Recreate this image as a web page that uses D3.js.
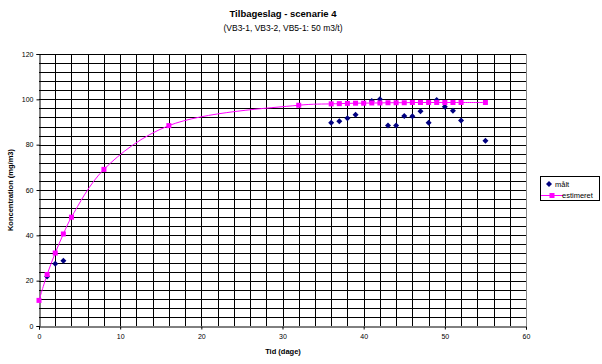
<!DOCTYPE html>
<html><head><meta charset="utf-8">
<script src="https://cdn.jsdelivr.net/npm/d3@7"></script>
<style>body{margin:0;background:#fff}svg{display:block}text{font-family:"Liberation Sans",Arial,sans-serif}</style>
</head><body><svg id="c" width="602" height="364"></svg>
<script>
const title = "Tilbageslag - scenarie 4";
const subtitle = "(VB3-1, VB3-2, VB5-1: 50 m3/t)";
const xLabel = "Tid (dage)";
const yLabel = "Koncentration (mg/m3)";
const seriesNames = ["målt", "estimeret"];
const maaltX = [1, 2, 3, 36, 37, 38, 39, 41, 42, 43, 44, 45, 46, 47, 48, 49, 50, 51, 52, 55];
const maaltY = [21.8, 27.5, 28.8, 89.7, 90.3, 91.6, 93.2, 99.3, 100.0, 88.5, 88.5, 92.6, 92.5, 94.7, 89.7, 99.7, 96.7, 95.0, 90.7, 81.7];
const estX = [0, 1, 2, 3, 4, 8, 16, 32, 36, 37, 38, 39, 40, 41, 42, 43, 44, 45, 46, 47, 48, 49, 50, 51, 52, 55];
const estY = [11.3, 22.7, 32.2, 40.6, 48, 69.1, 88.4, 97.4, 98.0, 98.1, 98.2, 98.3, 98.3, 98.4, 98.4, 98.5, 98.5, 98.5, 98.6, 98.6, 98.6, 98.6, 98.6, 98.6, 98.6, 98.6];
const xTicks = [0, 10, 20, 30, 40, 50, 60];
const yTicks = [0, 20, 40, 60, 80, 100, 120];

const svg = d3.select("#c");
const L = 39, R = 526, T = 54, B = 326;
const x = d3.scaleLinear().domain([0, 60]).range([L, R]);
const y = d3.scaleLinear().domain([0, 120]).range([B, T]);

svg.append("text").attr("x", 283).attr("y", 17).attr("text-anchor", "middle")
  .attr("font-size", 9.5).attr("font-weight", "bold").text(title);
svg.append("text").attr("x", 283).attr("y", 31).attr("text-anchor", "middle")
  .attr("font-size", 8.5).text(subtitle);

const g = svg.append("g");
g.selectAll("line.gx").data(d3.range(2, 60, 2)).join("line")
  .attr("x1", d => Math.round(x(d)) + 0.5).attr("x2", d => Math.round(x(d)) + 0.5)
  .attr("y1", T).attr("y2", B).attr("stroke", "#000").attr("stroke-width", 1);
g.selectAll("line.gy").data(d3.range(4, 121, 4)).join("line")
  .attr("y1", d => Math.round(y(d)) + 0.5).attr("y2", d => Math.round(y(d)) + 0.5)
  .attr("x1", L).attr("x2", R).attr("stroke", "#000").attr("stroke-width", 1);
g.append("line").attr("x1", R + 0.5).attr("x2", R + 0.5).attr("y1", T).attr("y2", B)
  .attr("stroke", "#888");

const xAxis = d3.axisBottom(x).tickValues(xTicks).tickSize(3).tickPadding(5);
const yAxis = d3.axisLeft(y).tickValues(yTicks).tickSize(3).tickPadding(3);
const gx = svg.append("g").attr("transform", `translate(0,${Math.round(B) + 0.5})`).call(xAxis);
const gy = svg.append("g").attr("transform", `translate(${L + 0.5},0)`).call(yAxis);
[gx, gy].forEach(a => {
  a.select(".domain").attr("stroke", "#000");
  a.selectAll("text").attr("font-size", 7).attr("font-family", "Liberation Sans, Arial, sans-serif").attr("fill", "#000");
});

svg.append("text").attr("x", 283).attr("y", 354).attr("text-anchor", "middle")
  .attr("font-size", 7.5).attr("font-weight", "bold").text(xLabel);
svg.append("text").attr("transform", `translate(13,${(T + B) / 2}) rotate(-90)`)
  .attr("text-anchor", "middle").attr("font-size", 7.5).attr("font-weight", "bold").text(yLabel);

const est = estX.map((d, i) => [d, estY[i]]);
const line = d3.line().x(d => x(d[0])).y(d => y(d[1])).curve(d3.curveCatmullRom.alpha(0.5));
svg.append("path").datum(est).attr("d", line).attr("fill", "none").attr("stroke", "#ff00ff").attr("stroke-width", 1);

const maalt = maaltX.map((d, i) => [d, maaltY[i]]);
const diamond = "M0,-3L3,0L0,3L-3,0Z";
svg.selectAll("path.m").data(maalt).join("path").attr("class", "m")
  .attr("transform", d => `translate(${x(d[0])},${y(d[1])})`)
  .attr("d", diamond).attr("fill", "#000080");

svg.selectAll("rect.e").data(est).join("rect").attr("class", "e")
  .attr("x", d => x(d[0]) - 2.5).attr("y", d => y(d[1]) - 2.5)
  .attr("width", 5).attr("height", 5).attr("fill", "#ff00ff");

const lg = svg.append("g");
lg.append("rect").attr("x", 540.5).attr("y", 176.5).attr("width", 59).attr("height", 24)
  .attr("fill", "#fff").attr("stroke", "#000");
lg.append("path").attr("transform", "translate(549,184)").attr("d", diamond).attr("fill", "#000080");
lg.append("text").attr("x", 555).attr("y", 187).attr("font-size", 7.5).text(seriesNames[0]);
lg.append("line").attr("x1", 541).attr("x2", 563).attr("y1", 195.5).attr("y2", 195.5).attr("stroke", "#ff00ff");
lg.append("rect").attr("x", 549.5).attr("y", 193).attr("width", 5).attr("height", 5).attr("fill", "#ff00ff");
lg.append("text").attr("x", 562).attr("y", 198).attr("font-size", 7.5).text(seriesNames[1]);
</script></body></html>
